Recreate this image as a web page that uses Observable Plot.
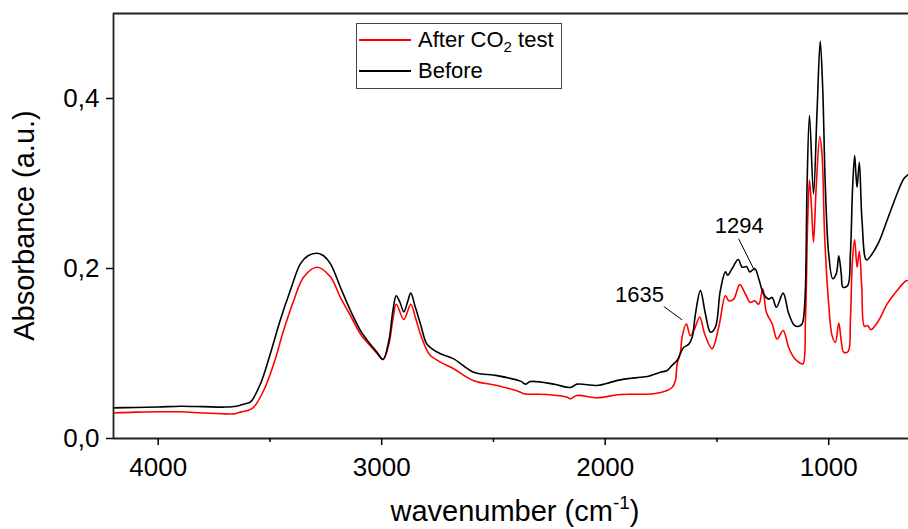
<!DOCTYPE html>
<html>
<head>
<meta charset="utf-8">
<script src="https://cdn.jsdelivr.net/npm/d3@7"></script>
<script src="https://cdn.jsdelivr.net/npm/@observablehq/plot@0.6"></script>
<style>
  html, body { margin: 0; padding: 0; background: #fff; }
  #wrap { position: relative; width: 908px; height: 529px; font-family: "Liberation Sans", Arial, sans-serif; }
  #legend { position: absolute; left: 356px; top: 23px; width: 204px; height: 64px; border: 1.3px solid #444; background: #fff; font-size: 22px; color: #000; }
  .row { position: absolute; left: 0; height: 26px; display: flex; align-items: center; }
  .sw { display: inline-block; width: 52px; height: 2px; margin-left: 2px; margin-right: 7px; }
  sub { font-size: 15px; vertical-align: -5px; line-height: 0; }
</style>
</head>
<body>
<div id="wrap">
  <div id="chart"></div>
  <div id="legend">
    <div class="row" style="top:3px"><span class="sw" style="background:#ff0000"></span><span>After CO<sub>2</sub> test</span></div>
    <div class="row" style="top:34px"><span class="sw" style="background:#000"></span><span>Before</span></div>
  </div>
</div>
<script>
// Before (black)
const wnBefore = [4200,4100,4000,3900,3800,3700,3650,3610,3587,3543,3498,3454,3409,3364,3330,3289,3260,3229,3185,3140,3095,3051,3021,2994,2968,2950,2935,2918,2901,2885,2870,2850,2827,2800,2782,2737,2678,2588,2484,2379,2357,2335,2230,2156,2126,2036,1977,1932,1843,1812,1753,1723,1701,1678,1664,1649,1626,1611,1596,1574,1552,1529,1507,1485,1462,1452,1432,1405,1387,1368,1353,1331,1313,1291,1268,1253,1234,1204,1179,1153,1134,1119,1112,1104,1097,1086,1068,1052,1038,1027,1015,1000,982,966,955,944,936,915,903,893,884,878,873,863,851,831,806,776,739,694,664,643];
const absBefore = [0.036,0.0365,0.037,0.038,0.0375,0.037,0.038,0.041,0.043,0.064,0.100,0.139,0.174,0.2055,0.215,0.218,0.215,0.2055,0.178,0.1506,0.127,0.111,0.1015,0.093,0.115,0.150,0.168,0.160,0.149,0.160,0.171,0.155,0.135,0.112,0.107,0.0996,0.0937,0.078,0.074,0.0675,0.064,0.067,0.064,0.060,0.064,0.0624,0.066,0.069,0.072,0.073,0.078,0.080,0.086,0.092,0.100,0.107,0.111,0.119,0.147,0.174,0.147,0.125,0.131,0.174,0.196,0.192,0.200,0.2106,0.2015,0.2023,0.196,0.200,0.188,0.170,0.164,0.166,0.1545,0.171,0.147,0.133,0.132,0.135,0.143,0.178,0.2957,0.380,0.288,0.386,0.4675,0.413,0.2957,0.217,0.188,0.194,0.215,0.194,0.178,0.180,0.217,0.2957,0.333,0.310,0.2957,0.325,0.2565,0.210,0.217,0.231,0.2565,0.288,0.3055,0.3106];

// After CO2 test (red)
const wnAfter = [4200,4100,4000,3900,3800,3700,3660,3632,3600,3573,3528,3483,3439,3394,3349,3289,3229,3185,3140,3095,3051,3021,2994,2968,2950,2935,2901,2870,2850,2827,2797,2782,2737,2678,2588,2484,2379,2364,2260,2170,2156,2126,2036,1932,1783,1723,1701,1686,1678,1664,1656,1637,1619,1600,1577,1555,1522,1492,1462,1447,1425,1398,1373,1350,1332,1313,1295,1279,1253,1231,1204,1179,1153,1127,1115,1104,1094,1086,1077,1068,1056,1040,1030,1018,1000,985,970,955,944,933,913,903,894,884,873,863,852,840,826,811,776,739,694,657,643];
const absAfter = [0.030,0.031,0.0314,0.0314,0.030,0.029,0.029,0.031,0.033,0.0368,0.0565,0.0878,0.127,0.162,0.190,0.2015,0.190,0.166,0.1447,0.123,0.109,0.100,0.093,0.111,0.140,0.158,0.140,0.158,0.143,0.123,0.1035,0.0976,0.0898,0.082,0.068,0.0624,0.0545,0.0526,0.0518,0.0486,0.0467,0.0506,0.048,0.0518,0.0526,0.0565,0.060,0.068,0.088,0.100,0.119,0.135,0.121,0.129,0.143,0.123,0.1055,0.131,0.168,0.162,0.164,0.181,0.170,0.160,0.162,0.158,0.176,0.1486,0.135,0.117,0.127,0.107,0.094,0.0886,0.0878,0.139,0.2565,0.304,0.272,0.231,0.2957,0.355,0.335,0.237,0.158,0.121,0.113,0.1357,0.1153,0.1015,0.1024,0.139,0.209,0.234,0.2015,0.220,0.178,0.132,0.133,0.128,0.139,0.158,0.174,0.185,0.186];

const xTicks = [4000, 3000, 2000, 1000];
const xMinorTicks = [3500, 2500, 1500];
const yTicks = [0, 0.2, 0.4];
const xDomain = [4200, 643];
const yDomain = [0, 0.5];

// annotations
const annLabels = ["1635", "1294"];
const annX = [1847, 1400];
const annY = [0.169, 0.2506];
const leadX1 = [1738, 1403];
const leadY1 = [0.1553, 0.235];
const leadX2 = [1656, 1332];
const leadY2 = [0.1396, 0.1976];

const before = wnBefore.map((w, i) => ({w, a: absBefore[i]}));
const after = wnAfter.map((w, i) => ({w, a: absAfter[i]}));
const ann = annLabels.map((t, i) => ({t, x: annX[i], y: annY[i], x1: leadX1[i], y1: leadY1[i], x2: leadX2[i], y2: leadY2[i]}));

const font = "Liberation Sans, Arial, sans-serif";
const plot = Plot.plot({
  width: 908,
  height: 529,
  marginLeft: 113,
  marginRight: 0,
  marginTop: 13,
  marginBottom: 91,
  style: {fontFamily: font, color: "#000", background: "#fff", overflow: "visible"},
  x: {domain: xDomain},
  y: {domain: yDomain},
  marks: [
    Plot.line(after, {x: "w", y: "a", stroke: "#ff0000", strokeWidth: 1.6, curve: "catmull-rom"}),
    Plot.line(before, {x: "w", y: "a", stroke: "#000", strokeWidth: 1.6, curve: "catmull-rom"}),
    Plot.link(ann, {x1: "x1", y1: "y1", x2: "x2", y2: "y2", stroke: "#000", strokeWidth: 1}),
    Plot.text(ann, {x: "x", y: "y", text: "t", fontSize: 22, fill: "#000", fontFamily: font}),
    Plot.ruleY([yDomain[0]], {stroke: "#222", strokeWidth: 1.8}),
    Plot.ruleY([yDomain[1]], {stroke: "#222", strokeWidth: 1.8}),
    Plot.ruleX([xDomain[0]], {stroke: "#222", strokeWidth: 1.8}),
    Plot.axisX({ticks: xTicks, tickSize: 7, tickPadding: 12, fontSize: 26, strokeWidth: 1.5, label: null, tickFormat: d => String(d)}),
    Plot.axisX({ticks: xMinorTicks, tickSize: 4, strokeWidth: 1.5, label: null, tickFormat: () => ""}),
    Plot.axisY({ticks: yTicks, tickSize: 7, tickPadding: 7, fontSize: 26, strokeWidth: 1.5, label: null, tickFormat: d => d.toFixed(1).replace(".", ",")})
  ]
});
document.getElementById("chart").appendChild(plot);

const svg = d3.select(plot);
const xt = svg.append("text")
  .attr("x", 515).attr("y", 521)
  .attr("text-anchor", "middle")
  .attr("font-size", 29).attr("font-family", font).attr("fill", "#000");
xt.append("tspan").text("wavenumber (cm");
xt.append("tspan").attr("dy", -12).attr("font-size", 19).text("-1");
xt.append("tspan").attr("dy", 12).text(")");

svg.append("text")
  .attr("transform", "translate(34,225.5) rotate(-90)")
  .attr("text-anchor", "middle")
  .attr("font-size", 29).attr("font-family", font).attr("fill", "#000")
  .text("Absorbance (a.u.)");
</script>
</body>
</html>
